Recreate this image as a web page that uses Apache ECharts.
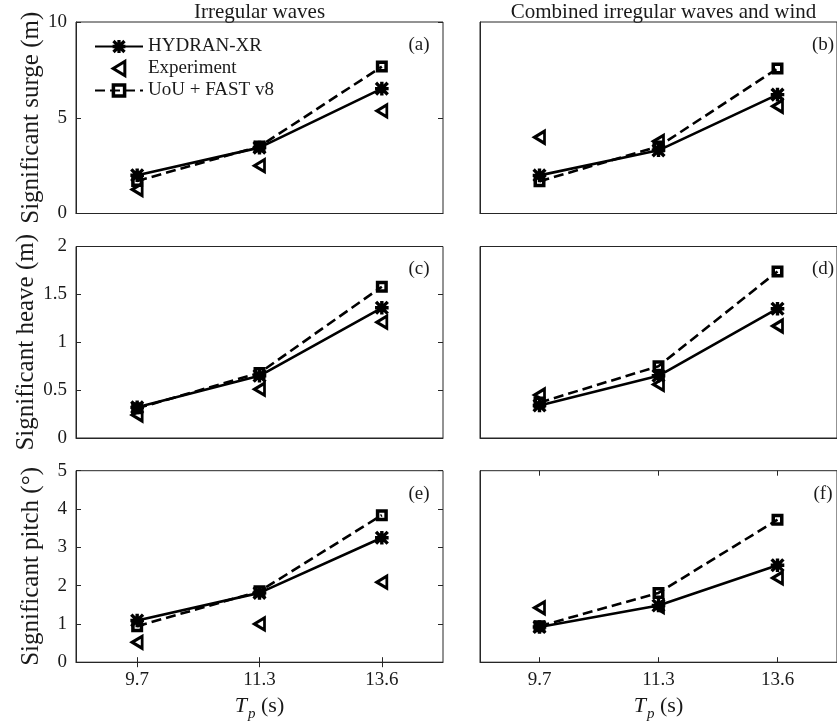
<!DOCTYPE html>
<html>
<head>
<meta charset="utf-8">
<script src="https://cdn.jsdelivr.net/npm/echarts@6/dist/echarts.min.js"></script>
<style>
  html, body { margin: 0; padding: 0; background: #fff; }
  #chart { width: 837px; height: 726px; }
</style>
</head>
<body>
<div id="chart"></div>
<script>
// Peak periods Tp (s)
const periods = ['9.7', '11.3', '13.6'];

// Significant surge (m)
const surgeWavesHydran = [2.0, 3.44, 6.52];
const surgeWavesExp    = [1.25, 2.5, 5.36];
const surgeWavesUoU    = [1.7, 3.5, 7.67];
const surgeWindHydran  = [1.99, 3.3, 6.21];
const surgeWindExp     = [3.98, 3.77, 5.6];
const surgeWindUoU     = [1.68, 3.5, 7.57];

// Significant heave (m)
const heaveWavesHydran = [0.32, 0.65, 1.36];
const heaveWavesExp    = [0.24, 0.51, 1.21];
const heaveWavesUoU    = [0.31, 0.68, 1.58];
const heaveWindHydran  = [0.34, 0.65, 1.35];
const heaveWindExp     = [0.45, 0.56, 1.17];
const heaveWindUoU     = [0.37, 0.75, 1.74];

// Significant pitch (deg)
const pitchWavesHydran = [1.09, 1.81, 3.25];
const pitchWavesExp    = [0.52, 1.0, 2.09];
const pitchWavesUoU    = [0.94, 1.85, 3.84];
const pitchWindHydran  = [0.92, 1.48, 2.53];
const pitchWindExp     = [1.42, 1.45, 2.2];
const pitchWindUoU     = [0.94, 1.81, 3.72];

const columnTitles = ['Irregular waves', 'Combined irregular waves and wind'];
const rowLabels = ['Significant surge (m)', 'Significant heave (m)', 'Significant pitch (°)'];
const rowMax = [10, 2, 5];
const rowStep = [5, 0.5, 1];
const tags = [['(a)', '(b)'], ['(c)', '(d)'], ['(e)', '(f)']];
const seriesNames = ['HYDRAN-XR', 'Experiment', 'UoU + FAST v8'];

const panelData = [
  [[surgeWavesHydran, surgeWavesExp, surgeWavesUoU], [surgeWindHydran, surgeWindExp, surgeWindUoU]],
  [[heaveWavesHydran, heaveWavesExp, heaveWavesUoU], [heaveWindHydran, heaveWindExp, heaveWindUoU]],
  [[pitchWavesHydran, pitchWavesExp, pitchWavesUoU], [pitchWindHydran, pitchWindExp, pitchWindUoU]]
];

const FONT = '"Liberation Serif", "Times New Roman", serif';
const INK = '#1a1a1a';
const FRAME = '#262626';

// asterisk marker built from four bars
const ASTERISK = 'path://M0,8.5H20V11.5H0Z M8.5,0H11.5V20H8.5Z M2.2,0.1L19.9,17.8L17.8,19.9L0.1,2.2Z M17.8,0.1L19.9,2.2L2.2,19.9L0.1,17.8Z';
const LEFT_TRIANGLE = 'path://M0,6L10,0L10,12Z';

// marker styles shared by the plot series and the legend
const hydStyle = { color: '#000', borderColor: '#000', borderWidth: 1.6, opacity: 1 };
const expStyle = { color: 'rgba(255,255,255,0)', borderColor: '#000', borderWidth: 3, opacity: 1 };
const uouStyle = { color: 'rgba(255,255,255,0)', borderColor: '#000', borderWidth: 3.5, opacity: 1 };

// panel geometry
const colLeft = [76, 480];
const plotW = 367;
const rowTop = [22, 246.5, 470.7];
const plotH = 191.5;

const grids = [], xAxes = [], yAxes = [], series = [], graphics = [];

for (let r = 0; r < 3; r++) {
  for (let c = 0; c < 2; c++) {
    const g = grids.length;
    grids.push({
      left: colLeft[c], top: rowTop[r], width: plotW, height: plotH,
      show: true, borderColor: FRAME, borderWidth: 1, backgroundColor: 'transparent',
      containLabel: false
    });
    const bottomRow = r === 2;
    const xi = xAxes.length;
    xAxes.push({
      type: 'category', data: periods, gridIndex: g, position: 'bottom',
      boundaryGap: true,
      axisLine: { lineStyle: { color: FRAME, width: 1 } },
      axisTick: { show: bottomRow, inside: true, alignWithLabel: true, length: 5, lineStyle: { color: FRAME } },
      axisLabel: { show: bottomRow, margin: 8, color: INK, fontFamily: FONT, fontSize: 19 },
      splitLine: { show: false },
      name: bottomRow ? '{it|T}{sub|p}{n| (s)}' : '',
      nameLocation: 'middle', nameGap: 33,
      nameTextStyle: {
        color: INK, fontFamily: FONT,
        rich: {
          it: { fontFamily: FONT, fontStyle: 'italic', fontSize: 22, lineHeight: 24, verticalAlign: 'top', color: INK },
          sub: { fontFamily: FONT, fontStyle: 'italic', fontSize: 15, lineHeight: 15, padding: [11, 0, 0, 1], verticalAlign: 'top', color: INK },
          n: { fontFamily: FONT, fontSize: 22, lineHeight: 24, verticalAlign: 'top', color: INK }
        }
      }
    });
    if (bottomRow) {
      xAxes.push({
        type: 'category', data: periods, gridIndex: g, position: 'top',
        boundaryGap: true,
        axisLine: { show: false },
        axisTick: { show: true, inside: true, alignWithLabel: true, length: 5, lineStyle: { color: FRAME } },
        axisLabel: { show: false }, splitLine: { show: false }
      });
    }
    const yi = yAxes.length;
    yAxes.push({
      type: 'value', gridIndex: g, position: 'left',
      min: 0, max: rowMax[r], interval: rowStep[r],
      axisLine: { show: true, lineStyle: { color: FRAME, width: 1 } },
      axisTick: { show: c === 0, inside: true, length: 5, lineStyle: { color: FRAME } },
      axisLabel: { show: c === 0, margin: 9, color: INK, fontFamily: FONT, fontSize: 19 },
      splitLine: { show: false },
      name: c === 0 ? rowLabels[r] : '',
      nameLocation: 'middle', nameGap: 32,
      nameTextStyle: { color: INK, fontFamily: FONT, fontSize: 25 }
    });
    if (c === 0) {
      yAxes.push({
        type: 'value', gridIndex: g, position: 'right',
        min: 0, max: rowMax[r], interval: rowStep[r],
        axisLine: { show: false },
        axisTick: { show: true, inside: true, length: 5, lineStyle: { color: FRAME } },
        axisLabel: { show: false }, splitLine: { show: false }
      });
    }

    const [hyd, exp, uou] = panelData[r][c];
    series.push({
      name: seriesNames[0], type: 'line', xAxisIndex: xi, yAxisIndex: yi,
      data: hyd, symbol: ASTERISK, symbolSize: 12, showSymbol: true,
      lineStyle: { color: '#000', width: 2.6, type: 'solid' },
      itemStyle: hydStyle,
      z: 3, animation: false, silent: true
    });
    series.push({
      name: seriesNames[1], type: 'scatter', xAxisIndex: xi, yAxisIndex: yi,
      data: exp, symbol: LEFT_TRIANGLE, symbolSize: [10, 12],
      itemStyle: expStyle,
      z: 4, animation: false, silent: true
    });
    series.push({
      name: seriesNames[2], type: 'line', xAxisIndex: xi, yAxisIndex: yi,
      data: uou, symbol: 'rect', symbolSize: 8.5, showSymbol: true,
      lineStyle: { color: '#000', width: 2.6, type: [10, 5] },
      itemStyle: uouStyle,
      z: 5, animation: false, silent: true
    });

    // panel tag at top right
    graphics.push({
      type: 'text',
      x: colLeft[c] + plotW - 24, y: rowTop[r] + 23,
      style: { text: tags[r][c], font: '19px ' + FONT, fill: INK, align: 'center', verticalAlign: 'middle', textAlign: 'center', textVerticalAlign: 'middle' }
    });
  }
}

// column titles
for (let c = 0; c < 2; c++) {
  graphics.push({
    type: 'text',
    x: colLeft[c] + plotW / 2, y: 12,
    style: { text: columnTitles[c], font: '21px ' + FONT, fill: INK, align: 'center', verticalAlign: 'middle', textAlign: 'center', textVerticalAlign: 'middle' }
  });
}

const chart = echarts.init(document.getElementById('chart'), null, { renderer: 'canvas' });
chart.setOption({
  animation: false,
  backgroundColor: '#fff',
  grid: grids,
  xAxis: xAxes,
  yAxis: yAxes,
  legend: {
    data: [
      { name: seriesNames[0], itemStyle: hydStyle },
      { name: seriesNames[1], itemStyle: expStyle },
      { name: seriesNames[2], itemStyle: uouStyle }
    ],
    orient: 'vertical', left: 89, top: 32,
    itemWidth: 48, itemHeight: 14, itemGap: 3,
    selectedMode: false,
    textStyle: { color: INK, fontFamily: FONT, fontSize: 19 }
  },
  series: series,
  graphic: graphics
});
</script>
</body>
</html>
